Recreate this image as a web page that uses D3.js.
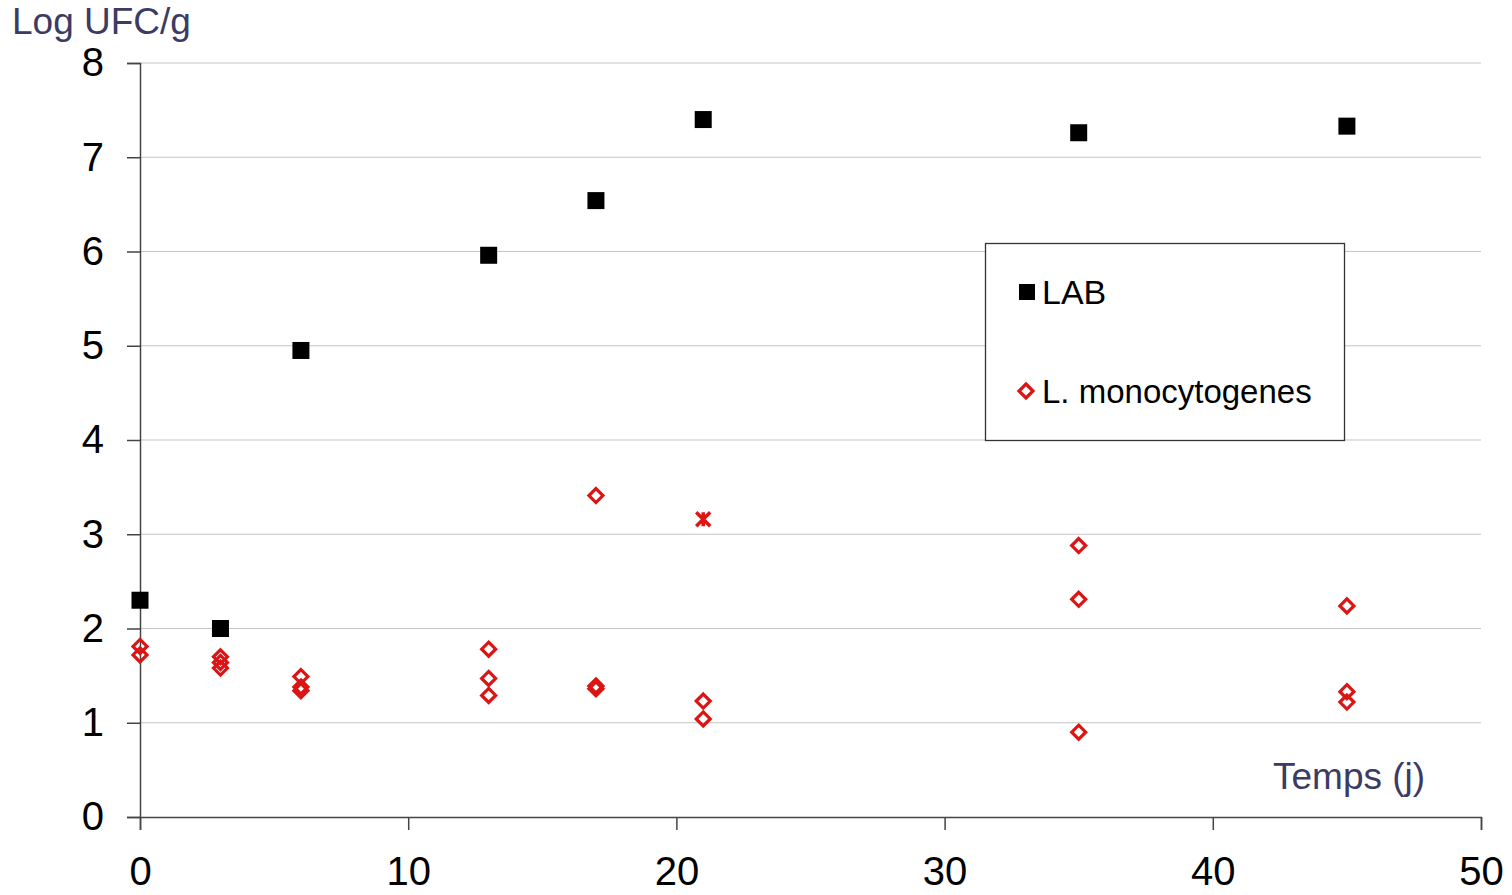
<!DOCTYPE html>
<html>
<head>
<meta charset="utf-8">
<script src="https://cdn.jsdelivr.net/npm/d3@7"></script>
<style>
  html, body { margin: 0; padding: 0; background: #fff; }
  svg { display: block; font-family: Arial, "Liberation Sans", sans-serif; }
</style>
</head>
<body>
<svg id="chart" width="1512" height="895"></svg>
<script>
// Storage days (j) and counts (log UFC/g)
const labDays = [0, 3, 6, 13, 17, 21, 35, 45];
const labValues = [2.30, 2.00, 4.95, 5.96, 6.54, 7.40, 7.26, 7.33];

const lmDays = [0, 0, 3, 3, 3, 6, 6, 6, 13, 13, 13, 17, 17, 17, 21, 21, 35, 35, 35, 45, 45, 45];
const lmValues = [1.81, 1.72, 1.70, 1.64, 1.58, 1.49, 1.38, 1.34, 1.78, 1.47, 1.29, 3.41, 1.39, 1.36, 1.23, 1.04, 2.88, 2.31, 0.90, 2.24, 1.33, 1.22];

// Single L. monocytogenes point drawn with a star marker
const lmStarDays = [21];
const lmStarValues = [3.16];

const xTicks = [0, 10, 20, 30, 40, 50];
const yTicks = [0, 1, 2, 3, 4, 5, 6, 7, 8];

const seriesNames = ["LAB", "L. monocytogenes"];
const yTitle = "Log UFC/g";
const xTitle = "Temps (j)";

const red = "#dc1414";
const titleColor = "#3b3b63";

const svg = d3.select("#chart");
const x = d3.scaleLinear().domain([0, 50]).range([140, 1481]);
const y = d3.scaleLinear().domain([0, 8]).range([817, 63]);

// Horizontal gridlines
svg.append("g")
  .selectAll("line")
  .data(yTicks.filter(d => d > 0))
  .join("line")
  .attr("x1", x(0)).attr("x2", x(50))
  .attr("y1", d => y(d)).attr("y2", d => y(d))
  .attr("stroke", "#c4c4c4").attr("stroke-width", 1.2);

// Y axis
const yAxis = svg.append("g")
  .attr("transform", `translate(${x(0)},0)`)
  .call(d3.axisLeft(y).tickValues(yTicks).tickSize(13).tickPadding(23).tickFormat(d3.format("d")));
yAxis.select(".domain").attr("stroke", "#444").attr("stroke-width", 1.5);
yAxis.selectAll(".tick line").attr("stroke", "#444").attr("stroke-width", 1.5);
yAxis.selectAll(".tick text")
  .attr("font-size", 40).attr("fill", "#000")
  .attr("font-family", "Arial, 'Liberation Sans', sans-serif");

// X axis
const xAxis = svg.append("g")
  .attr("transform", `translate(0,${y(0)})`)
  .call(d3.axisBottom(x).tickValues(xTicks).tickSize(13).tickPadding(27).tickFormat(d3.format("d")));
xAxis.select(".domain").attr("stroke", "#444").attr("stroke-width", 1.5);
xAxis.selectAll(".tick line").attr("stroke", "#444").attr("stroke-width", 1.5);
xAxis.selectAll(".tick text")
  .attr("font-size", 40).attr("fill", "#000")
  .attr("font-family", "Arial, 'Liberation Sans', sans-serif");

// Axis titles
svg.append("text").attr("x", 12).attr("y", 34)
  .attr("font-size", 37).attr("fill", titleColor).text(yTitle);
svg.append("text").attr("x", 1273).attr("y", 789)
  .attr("font-size", 37).attr("fill", titleColor).text(xTitle);

// Marker helpers
const diamondPath = (r) => `M0,${-r}L${r},0L0,${r}L${-r},0Z`;
const starPath = (r) => `M${-r},${-r}L${r},${r}M${r},${-r}L${-r},${r}M0,${-r}L0,${r}`;

// L. monocytogenes (open diamonds)
svg.append("g")
  .selectAll("path")
  .data(lmDays.map((d, i) => ({ day: d, v: lmValues[i] })))
  .join("path")
  .attr("transform", d => `translate(${x(d.day)},${y(d.v)})`)
  .attr("d", diamondPath(7))
  .attr("fill", "none").attr("stroke", red).attr("stroke-width", 3.2);

svg.append("g")
  .selectAll("path")
  .data(lmStarDays.map((d, i) => ({ day: d, v: lmStarValues[i] })))
  .join("path")
  .attr("transform", d => `translate(${x(d.day)},${y(d.v)})`)
  .attr("d", starPath(7))
  .attr("fill", "none").attr("stroke", red).attr("stroke-width", 3.5);

// LAB (filled squares)
const sq = 17;
svg.append("g")
  .selectAll("rect")
  .data(labDays.map((d, i) => ({ day: d, v: labValues[i] })))
  .join("rect")
  .attr("x", d => x(d.day) - sq / 2).attr("y", d => y(d.v) - sq / 2)
  .attr("width", sq).attr("height", sq)
  .attr("fill", "#000");

// Legend
const legend = svg.append("g");
legend.append("rect")
  .attr("x", 985.5).attr("y", 243.5).attr("width", 359).attr("height", 197)
  .attr("fill", "#fff").attr("stroke", "#333").attr("stroke-width", 1.3);
legend.append("rect")
  .attr("x", 1019).attr("y", 284).attr("width", 16).attr("height", 16).attr("fill", "#000");
legend.append("text").attr("x", 1042).attr("y", 304)
  .attr("font-size", 34).attr("fill", "#000").text(seriesNames[0]);
legend.append("path")
  .attr("transform", "translate(1026,391)")
  .attr("d", diamondPath(7))
  .attr("fill", "none").attr("stroke", red).attr("stroke-width", 3.2);
legend.append("text").attr("x", 1042).attr("y", 403)
  .attr("font-size", 33).attr("fill", "#000").text(seriesNames[1]);
</script>
</body>
</html>
